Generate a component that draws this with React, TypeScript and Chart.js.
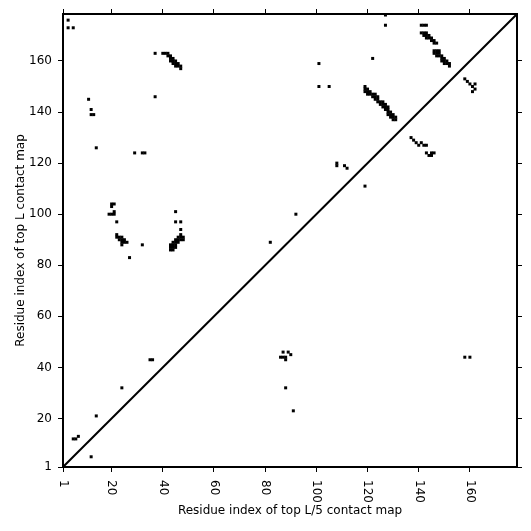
import React, { useEffect, useRef } from "react";
import { Chart, registerables } from "chart.js";

Chart.register(...registerables);

const tickValues = [1, 20, 40, 60, 80, 100, 120, 140, 160];
const axisMin = 1;
const axisMax = 178.4;
const xTitle = "Residue index of top L/5 contact map";
const yTitle = "Residue index of top L contact map";

// contacts in the upper-left triangle (top L)
const topLContacts: [number, number][] = [
  [3, 176], [3, 173], [5, 173],
  [11, 145], [12, 141], [12, 139], [13, 139], [14, 126],
  [37, 146], [37, 163],
  [40, 163], [41, 163], [42, 163], [42, 162], [43, 162], [43, 161], [44, 161], [44, 160],
  [45, 160], [44, 159], [45, 159], [45, 158], [46, 158], [47, 158], [47, 157], [43, 160], [46, 159],
  [29, 124], [32, 124], [33, 124],
  [20, 104], [21, 104], [20, 103],
  [19, 100], [20, 100], [21, 100], [21, 101], [22, 97],
  [22, 92], [22, 91], [23, 91], [24, 91], [23, 90], [24, 90], [25, 90], [24, 89], [25, 89], [26, 89], [24, 88],
  [32, 88], [27, 83],
  [45, 101], [45, 97], [47, 97], [47, 94],
  [47, 92], [46, 91], [47, 91], [48, 91], [45, 90], [46, 90], [47, 90], [48, 90],
  [44, 89], [45, 89], [46, 89], [43, 88], [44, 88], [45, 88], [43, 87], [44, 87], [45, 87], [43, 86], [44, 86],
  [35, 43], [36, 43], [24, 32], [14, 21], [5, 12], [6, 12], [7, 13],
  [101, 159], [122, 161], [101, 150], [105, 150], [127, 178], [127, 174],
  [119, 150], [119, 149], [120, 149], [119, 148], [120, 148], [121, 148], [121, 147], [122, 147],
  [122, 146], [123, 146], [123, 145], [124, 145], [124, 144], [125, 144], [125, 143], [126, 143],
  [127, 143], [126, 142], [127, 142], [127, 141], [128, 141], [128, 140], [129, 140], [129, 139],
  [130, 139], [129, 138], [130, 138], [131, 138], [131, 137],
  [120, 147], [123, 147], [124, 146], [126, 144], [128, 142], [128, 139], [130, 137],
  [108, 119], [108, 120], [111, 119], [112, 118], [92, 100], [82, 89],
  [141, 174], [142, 174], [143, 174],
  [141, 171], [142, 171], [143, 171], [142, 170], [143, 170], [144, 170], [144, 169], [145, 169],
  [145, 168], [146, 168], [146, 167], [147, 167], [143, 169],
  [146, 164], [147, 164], [148, 164], [146, 163], [147, 163], [148, 163], [148, 162], [149, 162],
  [149, 161], [150, 161], [150, 160], [151, 160], [151, 159], [152, 159], [152, 158],
  [147, 162], [149, 160], [150, 159],
];

// contacts in the lower-right triangle (top L/5)
const topL5Contacts: [number, number][] = [
  [12, 5], [91, 23], [88, 32],
  [86, 44], [87, 44], [88, 44], [88, 43], [87, 46], [89, 46], [90, 45],
  [158, 44], [160, 44], [119, 111],
  [137, 130], [138, 129], [139, 128], [140, 127], [141, 128], [142, 127], [143, 127],
  [143, 124], [144, 123], [145, 123], [145, 124], [146, 124],
  [158, 153], [159, 152], [160, 151], [162, 151], [161, 150], [162, 149], [161, 148],
];

const FONT = '"DejaVu Sans", sans-serif';

const xLabelPlugin = {
  id: "xRotatedLabels",
  afterDraw(chart: any) {
    const ctx = chart.ctx;
    const xs = chart.scales.x;
    const area = chart.chartArea;
    ctx.save();
    ctx.font = `12px ${FONT}`;
    ctx.fillStyle = "#000";
    ctx.textAlign = "left";
    ctx.textBaseline = "middle";
    for (const v of tickValues) {
      const px = xs.getPixelForValue(v);
      ctx.save();
      ctx.translate(px, area.bottom + 13);
      ctx.rotate(Math.PI / 2);
      ctx.fillText(String(v), 0, 0);
      ctx.restore();
    }
    ctx.restore();
  },
};

const setTicks = (scale: any) => {
  scale.ticks = tickValues.map((v) => ({ value: v }));
};

export default function App() {
  const ref = useRef<HTMLCanvasElement>(null);
  useEffect(() => {
    if (!ref.current) return;
    const cellSide = 3;
    const pointRadius = cellSide / (2 * Math.SQRT1_2);
    const toPts = (arr: [number, number][]) => arr.map(([x, y]) => ({ x, y }));
    const gridCommon = {
      drawOnChartArea: false,
      drawTicks: true,
      tickLength: 5,
      tickWidth: 1,
      tickColor: "#000",
      color: "#000",
    };
    const border = { display: true, width: 2, color: "#000" };
    const chart = new Chart(ref.current, {
      type: "scatter",
      data: {
        datasets: [
          {
            data: toPts(topLContacts),
            pointStyle: "rect",
            pointRadius,
            backgroundColor: "#000",
            borderWidth: 0,
            xAxisID: "x",
            yAxisID: "y",
          },
          {
            data: toPts(topL5Contacts),
            pointStyle: "rect",
            pointRadius,
            backgroundColor: "#000",
            borderWidth: 0,
            xAxisID: "x",
            yAxisID: "y",
          },
          {
            type: "line",
            data: [
              { x: axisMin, y: axisMin },
              { x: axisMax, y: axisMax },
            ],
            borderColor: "#000",
            borderWidth: 2,
            pointRadius: 0,
            fill: false,
            xAxisID: "x",
            yAxisID: "y",
          } as any,
        ],
      },
      options: {
        animation: false,
        responsive: false,
        events: [],
        layout: { padding: 0 },
        plugins: { legend: { display: false }, tooltip: { enabled: false } },
        scales: {
          x: {
            type: "linear",
            position: "bottom",
            min: axisMin,
            max: axisMax,
            afterBuildTicks: setTicks,
            afterFit: (s: any) => {
              s.height = 64;
            },
            ticks: { display: false },
            grid: gridCommon,
            border,
            title: {
              display: true,
              text: xTitle,
              color: "#000",
              font: { family: FONT, size: 12 },
              padding: { top: 0, bottom: 13 },
            },
          },
          x2: {
            type: "linear",
            position: "top",
            min: axisMin,
            max: axisMax,
            afterBuildTicks: setTicks,
            afterFit: (s: any) => {
              s.height = 14;
            },
            ticks: { display: false },
            grid: gridCommon,
            border,
          },
          y: {
            type: "linear",
            position: "left",
            min: axisMin,
            max: axisMax,
            afterBuildTicks: setTicks,
            afterFit: (s: any) => {
              s.width = 63;
            },
            ticks: {
              display: true,
              color: "#000",
              padding: 6,
              font: { family: FONT, size: 12 },
              callback: (v: any) => String(v),
            },
            grid: gridCommon,
            border,
            title: {
              display: true,
              text: yTitle,
              color: "#000",
              font: { family: FONT, size: 12 },
              padding: { top: 14, bottom: 0 },
            },
          },
          y2: {
            type: "linear",
            position: "right",
            min: axisMin,
            max: axisMax,
            afterBuildTicks: setTicks,
            afterFit: (s: any) => {
              s.width = 14;
            },
            ticks: { display: false },
            grid: gridCommon,
            border,
          },
        },
      } as any,
      plugins: [xLabelPlugin],
    });
    return () => chart.destroy();
  }, []);
  return (
    <div style={{ position: "fixed", left: 0, top: 0, width: 531, height: 531, background: "#fff" }}>
      <canvas ref={ref} width={531} height={531} style={{ display: "block" }} />
    </div>
  );
}
